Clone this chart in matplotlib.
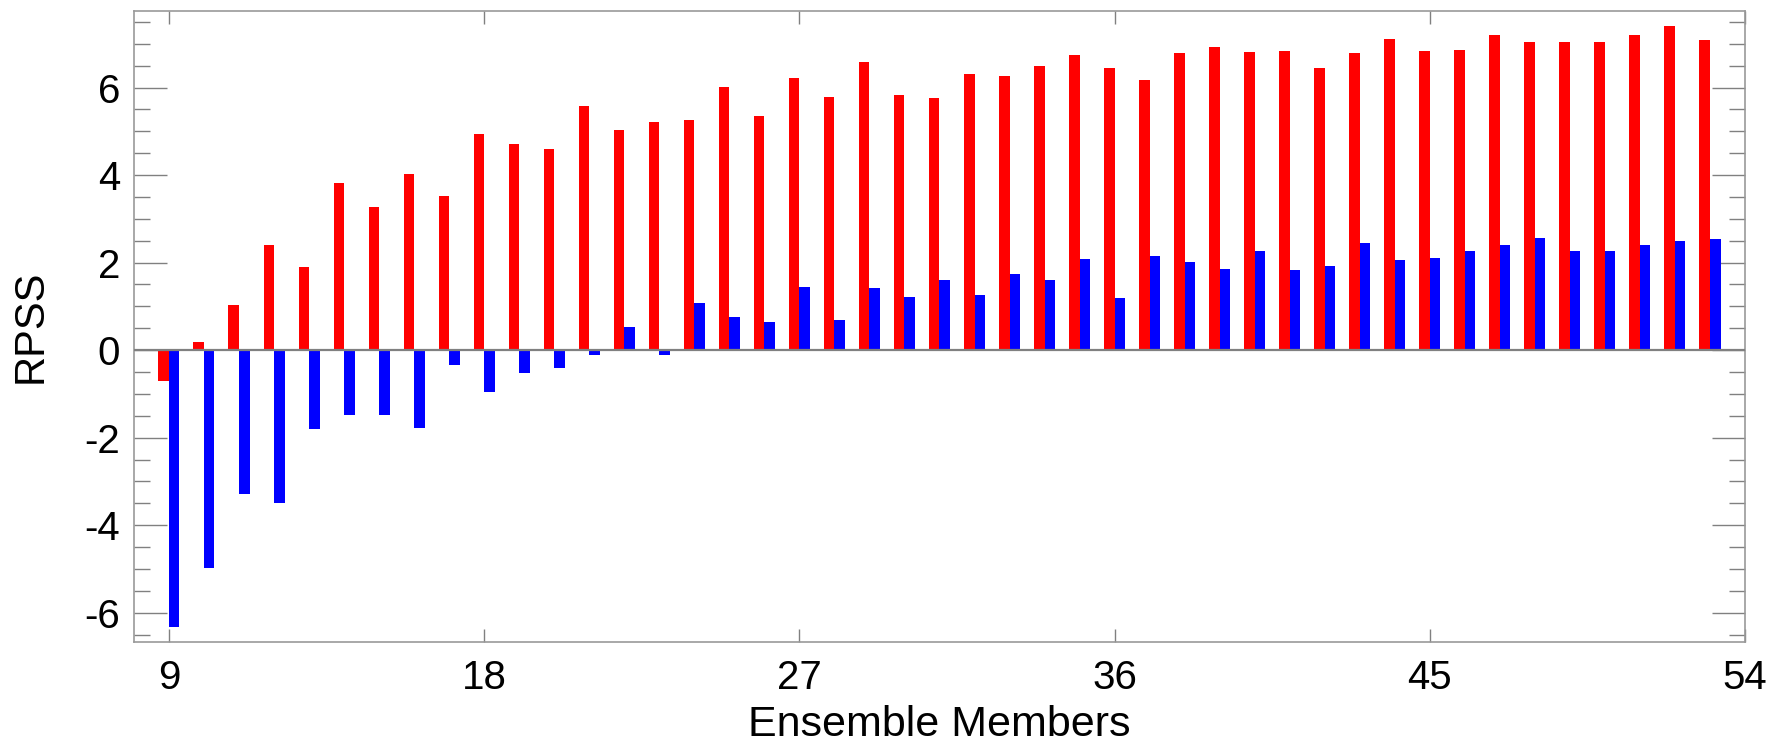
import numpy as np
import matplotlib
matplotlib.use("Agg")
import matplotlib.pyplot as plt
from matplotlib.ticker import MultipleLocator

plt.rcParams['font.family'] = ['Liberation Sans', 'DejaVu Sans']
plt.rcParams['axes.unicode_minus'] = False

# ensemble size (x) and RPSS for the two experiments
members = list(range(9, 54))
rpss_red = [-0.70, 0.19, 1.03, 2.40, 1.89, 3.82, 3.28, 4.02, 3.52, 4.94,
            4.71, 4.59, 5.57, 5.02, 5.21, 5.27, 6.02, 5.36, 6.21, 5.79,
            6.59, 5.84, 5.75, 6.30, 6.27, 6.49, 6.75, 6.44, 6.17, 6.79,
            6.92, 6.81, 6.83, 6.45, 6.79, 7.12, 6.83, 6.85, 7.19, 7.05,
            7.05, 7.05, 7.21, 7.40, 7.08]
rpss_blue = [-6.32, -4.99, -3.29, -3.50, -1.81, -1.48, -1.48, -1.79, -0.34, -0.95,
             -0.53, -0.42, -0.12, 0.52, -0.11, 1.08, 0.76, 0.64, 1.44, 0.69,
             1.43, 1.22, 1.60, 1.25, 1.73, 1.60, 2.08, 1.18, 2.16, 2.02,
             1.85, 2.27, 1.82, 1.93, 2.44, 2.05, 2.10, 2.27, 2.40, 2.56,
             2.27, 2.27, 2.40, 2.50, 2.53]
xticks = [9, 18, 27, 36, 45, 54]
yticks = [-6, -4, -2, 0, 2, 4, 6]

fig = plt.figure(figsize=(17.81, 7.47), dpi=100)
ax = fig.add_axes([0.0752, 0.1406, 0.9046, 0.8447])

# red bar just left of each member count, blue just right
bar_w = 0.3
ax.bar(members, rpss_red, width=-bar_w, align='edge', color='#ff0000', zorder=2)
ax.bar(members, rpss_blue, width=bar_w, align='edge', color='#0000ff', zorder=2)
ax.axhline(0, color='#808080', lw=1.6, zorder=3)

ax.set_xlim(8, 54)
ax.set_ylim(-6.67, 7.75)
ax.set_xticks(xticks)
ax.set_yticks(yticks)
ax.yaxis.set_minor_locator(MultipleLocator(0.5))

ax.tick_params(axis='x', which='major', direction='in', length=9.5, width=1.0,
               color='#808080', top=True, labelsize=29, pad=12)
ax.tick_params(axis='y', which='major', direction='in', length=23.5, width=1.0,
               color='#808080', right=True, labelsize=29, pad=10)
ax.tick_params(axis='y', which='minor', direction='in', length=11.5, width=1.0,
               color='#808080', right=True)

for s in ax.spines.values():
    s.set_color('#999999')
    s.set_linewidth(1.2)

ax.set_xlabel('Ensemble Members', fontsize=31, labelpad=6)
ax.set_ylabel('RPSS', fontsize=30, labelpad=24)

plt.savefig('out.png', dpi=100)
